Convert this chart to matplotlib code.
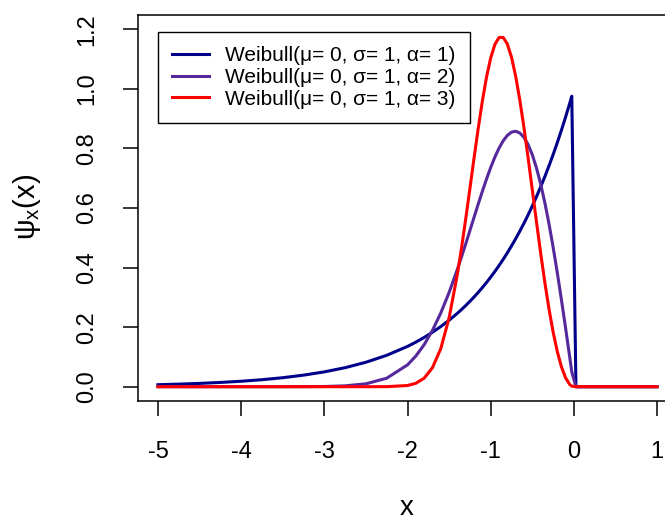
import matplotlib
matplotlib.use("Agg")
import matplotlib.pyplot as plt

plt.rcParams['font.family'] = ['Liberation Sans', 'DejaVu Sans']
plt.rcParams['mathtext.fontset'] = 'custom'
plt.rcParams['mathtext.rm'] = 'Liberation Sans'
plt.rcParams['mathtext.it'] = 'Liberation Sans'

# valores (densidad Weibull invertida)
x_vals = [-5.0, -4.75, -4.5, -4.25, -4.0, -3.75, -3.5, -3.25, -3.0, -2.75, -2.5, -2.25,
          -2.0, -1.9, -1.8, -1.7, -1.6, -1.5,
          -1.4, -1.35, -1.3, -1.25, -1.2, -1.15, -1.1, -1.05, -1.0, -0.95, -0.9, -0.85,
          -0.8, -0.75, -0.7, -0.65, -0.6, -0.55, -0.5, -0.45, -0.4, -0.35, -0.3, -0.25,
          -0.2, -0.15, -0.1, -0.05, -0.025,
          0.025, 0.5, 1.0]

alfa1 = [0.0067, 0.0087, 0.0111, 0.0143, 0.0183, 0.0235, 0.0302, 0.0388, 0.0498, 0.0639, 0.0821, 0.1054,
         0.1353, 0.1496, 0.1653, 0.1827, 0.2019, 0.2231,
         0.2466, 0.2592, 0.2725, 0.2865, 0.3012, 0.3166, 0.3329, 0.3499, 0.3679, 0.3867, 0.4066, 0.4274,
         0.4493, 0.4724, 0.4966, 0.5220, 0.5488, 0.5769, 0.6065, 0.6376, 0.6703, 0.7047, 0.7408, 0.7788,
         0.8187, 0.8607, 0.9048, 0.9512, 0.9753,
         0.0, 0.0, 0.0]

alfa2 = [0.0, 0.0, 0.0, 0.0, 0.0, 0.0, 0.0, 0.0002, 0.0007, 0.0029, 0.0097, 0.0285,
         0.0733, 0.1028, 0.1410, 0.1890, 0.2474, 0.3162,
         0.3944, 0.4364, 0.4797, 0.5240, 0.5686, 0.6129, 0.6560, 0.6973, 0.7358, 0.7706, 0.8007, 0.8254,
         0.8437, 0.8547, 0.8577, 0.8520, 0.8372, 0.8129, 0.7788, 0.7350, 0.6817, 0.6193, 0.5484, 0.4697,
         0.3843, 0.2933, 0.1980, 0.0998, 0.0500,
         0.0, 0.0, 0.0]

alfa3 = [0.0, 0.0, 0.0, 0.0, 0.0, 0.0, 0.0, 0.0, 0.0, 0.0, 0.0, 0.0002,
         0.0040, 0.0114, 0.0285, 0.0637, 0.1278, 0.2310,
         0.3782, 0.4671, 0.5634, 0.6649, 0.7674, 0.8670, 0.9592, 1.0393, 1.1036, 1.1487, 1.1723, 1.1728,
         1.1507, 1.1067, 1.0431, 0.9631, 0.8702, 0.7684, 0.6619, 0.5546, 0.4502, 0.3521, 0.2628, 0.1846,
         0.1190, 0.0673, 0.0300, 0.0075, 0.0019,
         0.0, 0.0, 0.0]

etiquetas = ['Weibull(\u03bc= 0, \u03c3= 1, \u03b1= 1)',
             'Weibull(\u03bc= 0, \u03c3= 1, \u03b1= 2)',
             'Weibull(\u03bc= 0, \u03c3= 1, \u03b1= 3)']
colores = ['#00008B', '#55289B', '#FF0000']

xticks = [-5, -4, -3, -2, -1, 0, 1]
yticks = [0.0, 0.2, 0.4, 0.6, 0.8, 1.0, 1.2]

W, H = 665, 521
fig = plt.figure(figsize=(W / 100, H / 100), dpi=100)
# el eje se sale por la derecha como en la imagen original
ax = fig.add_axes([138 / W, (H - 401) / H, 539 / W, 386 / H])

for serie, col, lab in zip([alfa1, alfa2, alfa3], colores, etiquetas):
    ax.plot(x_vals, serie, color=col, lw=2.2, label=lab)

ax.set_xlim(-5.24, 1.24)
ax.set_ylim(-0.048, 1.248)
ax.set_xticks(xticks)
ax.set_xticklabels([str(t) for t in xticks])
ax.set_yticks(yticks)
ax.set_yticklabels(['%.1f' % t for t in yticks], rotation=90, va='center')
ax.tick_params(direction='out', length=10.8, width=1.1, labelsize=17, pad=18, colors='black')
for s in ax.spines.values():
    s.set_linewidth(1.1)

leg = ax.legend(loc='upper left', bbox_to_anchor=(0.037, 0.956), fontsize=15,
                fancybox=False, edgecolor='black', framealpha=1, borderpad=0.68,
                labelspacing=0.13, handlelength=1.77, handletextpad=0.77, borderaxespad=0)
leg.get_frame().set_linewidth(1.0)

fig.text(407 / W, 1 - 508 / H, 'x', fontsize=20, ha='center', va='center')
fig.text(27 / W, 1 - 207 / H, r'$\psi_{x}(x)$', fontsize=21, ha='center', va='center', rotation=90)

fig.savefig('out.png', dpi=100)
